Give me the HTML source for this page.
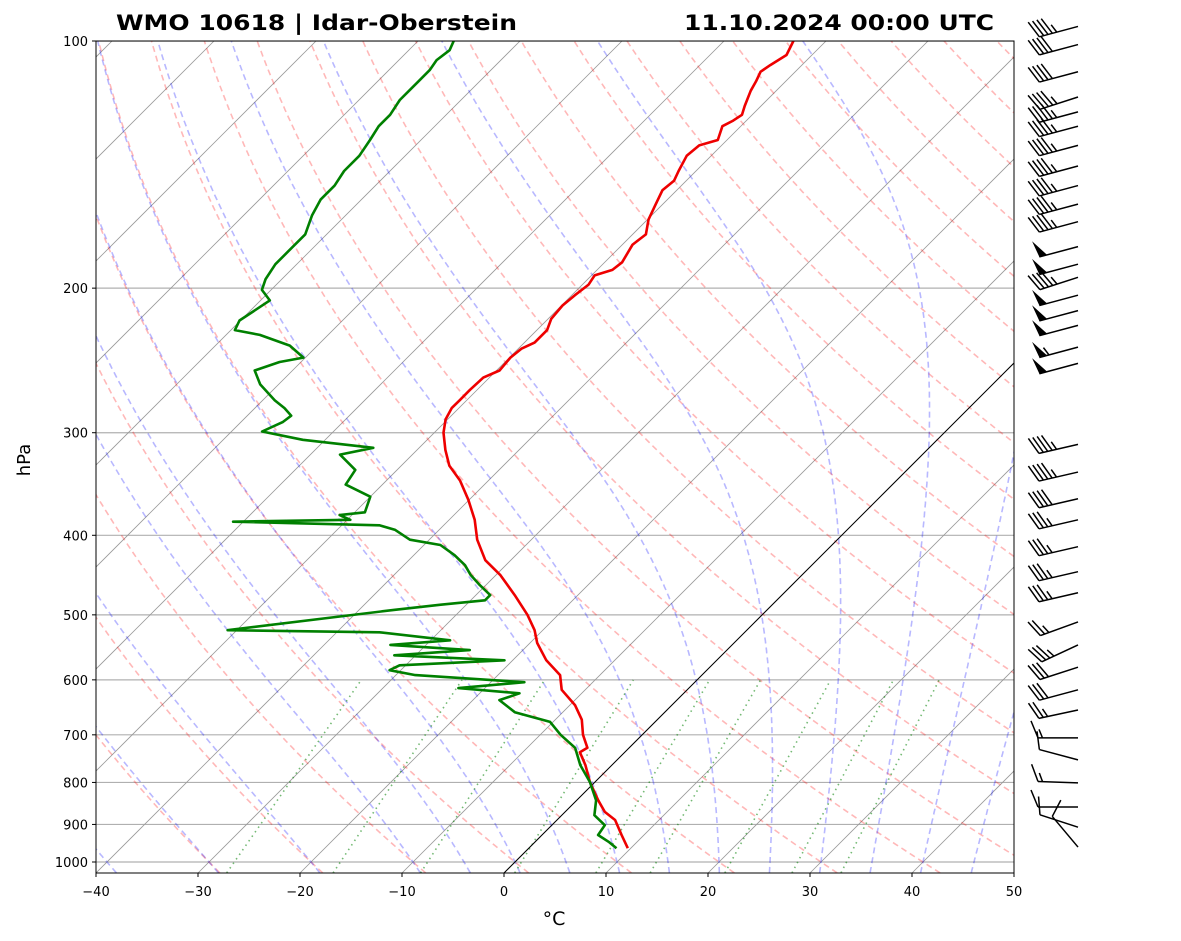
<!DOCTYPE html>
<html><head><meta charset="utf-8">
<style>
html,body{margin:0;padding:0;background:#fff;}
svg{display:block;font-family:"DejaVu Sans","Liberation Sans",sans-serif;}
</style></head>
<body>
<svg id="chart" width="1181" height="941" viewBox="0 0 1181 941" xmlns="http://www.w3.org/2000/svg">
<defs><clipPath id="plotclip"><rect x="96" y="41" width="918" height="832"/></clipPath></defs>
<rect width="1181" height="941" fill="#fff"/>
<g id="bg" clip-path="url(#plotclip)"></g>
<g id="prof" clip-path="url(#plotclip)"></g>
<rect x="96" y="41" width="918" height="832" fill="none" stroke="#000" stroke-width="1"/>
<g id="axes"></g>
<g id="barbs"></g>
<text x="116" y="30" font-size="21" font-weight="bold" textLength="401" lengthAdjust="spacingAndGlyphs">WMO 10618 | Idar-Oberstein</text>
<text x="684" y="30" font-size="21" font-weight="bold" textLength="310" lengthAdjust="spacingAndGlyphs">11.10.2024 00:00 UTC</text>
<text x="30" y="460" font-size="18" text-anchor="middle" transform="rotate(-90 30 460)">hPa</text>
<text x="554" y="925" font-size="19" text-anchor="middle">°C</text>
</svg>
<script>
// ---- data ----
const tempP = [100,104,107,109,112,115,120,123,125,127,132,134,138,144,148,152,158,165,172,177,186,190,193,198,204,210,218,225,233,237,243,252,257,266,274,280,289,300,315,329,343,362,383,405,429,447,473,500,522,541,568,592,617,644,671,700,726,735,762,799,841,869,889,927,962];
const tempT = [-53.2,-52.5,-53.1,-53.4,-52.9,-52.5,-51.6,-51.0,-51.3,-51.8,-50.9,-52.2,-52.4,-51.7,-51.2,-51.4,-50.7,-49.9,-48.7,-49.0,-48.3,-48.5,-49.7,-49.4,-49.7,-49.9,-49.7,-49.0,-49.0,-49.7,-49.9,-49.7,-50.6,-50.7,-50.7,-50.7,-50.2,-49.1,-47.2,-45.3,-42.8,-40.1,-37.5,-35.3,-32.5,-29.6,-26.2,-23.0,-20.8,-19.3,-16.7,-13.9,-12.3,-9.5,-7.4,-5.8,-4.1,-4.4,-2.6,-0.5,2.1,3.9,5.7,7.8,9.7];
const dewP = [100,102.6,105.5,108.5,112,115,118,123,127,132,138,144,150,156,163,172,180,187,195,201,207,213,219,225,228,235,243,246,252,262,274,280,286,291,299,306,313,319,333,347,359,375,378,383,385,389,394,405,411,423,435,447,460,473,480,486,493,522,525,537,544,552,560,568,576,584,592,604,614,623,635,657,675,700,726,762,799,841,877,902,927,945,962];
const dewT = [-86.5,-86.0,-86.3,-86.0,-86.0,-86.0,-86.0,-85.5,-85.5,-85.0,-84.5,-84.5,-84.0,-84.0,-83.3,-82.1,-82.1,-82.1,-81.6,-80.9,-79.1,-79.6,-80.1,-79.6,-76.7,-72.7,-70.2,-72.1,-73.7,-71.8,-68.8,-67.1,-65.7,-65.9,-67.0,-62.2,-54.5,-57.1,-54.1,-53.6,-50.0,-49.0,-51.2,-49.7,-61.0,-46.3,-44.3,-41.9,-38.4,-36.0,-34.0,-32.5,-30.6,-28.6,-28.6,-32.5,-36.5,-50.9,-35.8,-28.1,-33.5,-25.2,-32.1,-20.8,-30.6,-31.1,-28.1,-16.7,-22.6,-16.1,-17.4,-14.7,-10.3,-8.0,-5.3,-3.1,-0.5,1.9,3.2,5.2,5.5,7.2,8.6];
const windP = [96,101,109,117,122,127,134,142,150,158,166,178,187,194,204,213,222,236,247,310,335,361,383,413,443,470,510,544,579,617,653,706,751,801,857,907,959];
const windSpd = [45,40,40,45,45,45,45,45,45,45,45,50,50,45,50,50,50,55,50,45,45,40,35,35,35,35,25,35,30,30,25,15,10,15,10,10,10];
const windDir = [255,255,255,252,255,255,255,255,255,255,255,255,255,252,255,255,255,255,255,257,257,257,257,257,257,257,250,245,252,255,258,270,285,272,270,288,320];
const pressureTicks = [100,200,300,400,500,600,700,800,900,1000];
const tempTicks = [-40,-30,-20,-10,0,10,20,30,40,50];
const dryTheta = [-30,-20,-10,0,10,20,30,40,50,60,70,80,90,100,110,120,130,140,150,160,170,180,190];
const moistT0 = [-50,-40,-30,-20,-10,-5,0,5,10,15,20,25,30,35,40,45];
const mixRatios = [0.0004,0.001,0.002,0.004,0.007,0.01,0.016,0.024,0.032];

// ---- axis functions ----
const X0=96, X1=1014, Y0=41, YB=873, PXC=10.2;
function yOf(p){return Y0+821*Math.log10(p/100);}
function xOf(T,p){return X0+(T+40)*PXC+(YB-yOf(p));}
const NS='http://www.w3.org/2000/svg';
function mk(tag,attrs,parent){const e=document.createElementNS(NS,tag);for(const k in attrs)e.setAttribute(k,attrs[k]);parent.appendChild(e);return e;}
const bg=document.getElementById('bg'), prof=document.getElementById('prof'), axes=document.getElementById('axes'), barbs=document.getElementById('barbs');
function pathFrom(pts){return pts.map((q,i)=>(i?'L':'M')+q[0].toFixed(1)+' '+q[1].toFixed(1)).join('');}
const plevels=[];for(let lp=Math.log(1031);lp>=Math.log(95);lp-=0.01)plevels.push(Math.exp(lp));

pressureTicks.forEach(p=>{
  const l=mk('line',{x1:X0,x2:X1,y1:yOf(p),y2:yOf(p),stroke:'#b0b0b0','stroke-width':1.2},bg);
  
  
});
for(let T=-150;T<=50;T+=10){
  const l=mk('line',{x1:xOf(T,1031),y1:yOf(1031),x2:xOf(T,95),y2:yOf(95),stroke:'#999','stroke-width':0.8},bg);
  
  
}
dryTheta.forEach(th=>{
  const pts=plevels.map(p=>[xOf((th+273.15)*Math.pow(p/1000,0.2857)-273.15,p),yOf(p)]);
  const e=mk('path',{d:pathFrom(pts),fill:'none',stroke:'rgba(255,0,0,0.28)','stroke-width':1.6,'stroke-dasharray':'6,4'},bg);
  
  
});
function es(Tc){return 6.112*Math.exp(17.67*Tc/(Tc+243.5));}
function dTdp(TK,p){const Rd=287.04,Lv=2.501e6,Cp=1005.7,eps=0.622;const e=es(TK-273.15);const rs=eps*e/(p-e);
  return (1/p)*(Rd*TK+Lv*rs)/(Cp+Lv*Lv*rs*eps/(Rd*TK*TK));}
function moist(T0){
  function integ(pStart,pEnd,step){let T=T0+273.15,p=pStart;const arr=[[p,T]];
    while((step<0&&p>pEnd)||(step>0&&p<pEnd)){const k1=dTdp(T,p),k2=dTdp(T+k1*step/2,p+step/2);T+=k2*step;p+=step;arr.push([p,T]);}return arr;}
  const down=integ(1000,1031,1), up=integ(1000,95,-2);
  return down.reverse().concat(up.slice(1));
}
moistT0.forEach(t=>{
  const pts=moist(t).map(q=>[xOf(q[1]-273.15,q[0]),yOf(q[0])]);
  const e=mk('path',{d:pathFrom(pts),fill:'none',stroke:'rgba(0,0,255,0.28)','stroke-width':1.6,'stroke-dasharray':'6,4'},bg);
  
  
});
mixRatios.forEach(w=>{
  const pts=[1031,600].map(p=>{const e=p*w/(0.622+w);const l=Math.log(e/6.112);const Td=243.5*l/(17.67-l);return [xOf(Td,p),yOf(p)];});
  const e=mk('path',{d:pathFrom(pts),fill:'none',stroke:'rgba(0,128,0,0.55)','stroke-width':1.6,'stroke-dasharray':'1.5,4'},bg);
  
  
});
const zl=mk('line',{x1:xOf(0,1031),y1:yOf(1031),x2:xOf(0,95),y2:yOf(95),stroke:'#000','stroke-width':1},bg);



const tp=mk('path',{d:pathFrom(tempP.map((p,i)=>[xOf(tempT[i],p),yOf(p)])),fill:'none',stroke:'#e00','stroke-width':2.6,'stroke-linejoin':'round'},prof);


const dp=mk('path',{d:pathFrom(dewP.map((p,i)=>[xOf(dewT[i],p),yOf(p)])),fill:'none',stroke:'#008000','stroke-width':2.6,'stroke-linejoin':'round'},prof);



pressureTicks.forEach(p=>{
  const y=yOf(p);
  mk('line',{x1:X0-4,x2:X0,y1:y,y2:y,stroke:'#000'},axes);
  const t=mk('text',{x:X0-8,y:y+5,'font-size':13,'text-anchor':'end'},axes);t.textContent=p;
  
  
});
tempTicks.forEach(T=>{
  const x=X0+(T+40)*PXC;
  mk('line',{x1:x,x2:x,y1:YB,y2:YB+4,stroke:'#000'},axes);
  const t=mk('text',{x:x,y:YB+23,'font-size':13,'text-anchor':'middle'},axes);t.textContent=(T<0?'\u2212'+(-T):T);
  
  
});

windP.forEach((p,i)=>{
  const y=yOf(p), x=1078, d=windDir[i]*Math.PI/180;
  const ux=Math.sin(d), uy=-Math.cos(d);
  const L=40, ex=x+ux*L, ey=y+uy*L;
  const px=-uy, py=ux;
  const g=mk('g',{},barbs);
  
  
  mk('line',{x1:x,y1:y,x2:ex,y2:ey,stroke:'#000','stroke-width':1.5},g);
  let s=windSpd[i], pos=0;
  const bl=17;
  function pt(o){return [ex-ux*o, ey-uy*o];}
  while(s>=50){const a=pt(pos),b=pt(pos+8);const tip=[a[0]+px*bl+ux*3,a[1]+py*bl+uy*3];
    mk('polygon',{points:`${a[0]},${a[1]} ${b[0]},${b[1]} ${tip[0]},${tip[1]}`,fill:'#000'},g);pos+=10;s-=50;}
  if(pos===0 && s<10) pos=6;
  while(s>=10){const a=pt(pos);mk('line',{x1:a[0],y1:a[1],x2:a[0]+px*bl+ux*7,y2:a[1]+py*bl+uy*7,stroke:'#000','stroke-width':1.5},g);pos+=4.5;s-=10;}
  if(s>=5){const a=pt(pos+(pos===0?4.5:0));mk('line',{x1:a[0],y1:a[1],x2:a[0]+px*bl*0.5+ux*3.5,y2:a[1]+py*bl*0.5+uy*3.5,stroke:'#000','stroke-width':1.5},g);}
});
</script>
</body></html>
